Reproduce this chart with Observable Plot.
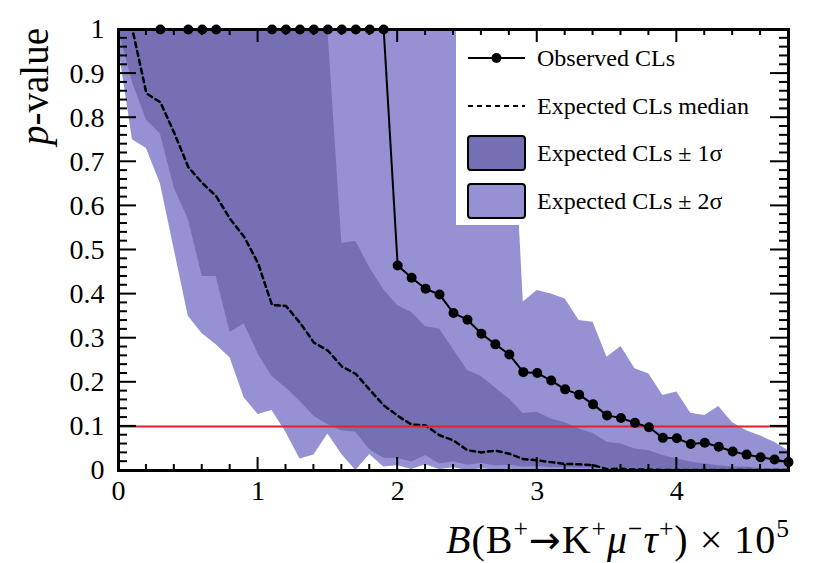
<!DOCTYPE html>
<html><head><meta charset="utf-8">
<script src="https://cdn.jsdelivr.net/npm/d3@7"></script>
<script src="https://cdn.jsdelivr.net/npm/@observablehq/plot@0.6"></script>
<style>body{margin:0;background:#fff}</style>
</head><body><div id="chart"></div>
<script>
// ---- data ----
const xGrid = [0,0.1,0.2,0.3,0.4,0.5,0.6,0.7,0.8,0.9,1.0,1.1,1.2,1.3,1.4,1.5,1.6,1.7,1.8,1.9,2.0,2.1,2.2,2.3,2.4,2.5,2.6,2.7,2.8,2.9,3.0,3.1,3.2,3.3,3.4,3.5,3.6,3.7,3.8,3.9,4.0,4.1,4.2,4.3,4.4,4.5,4.6,4.7,4.8];
const upper2 = [1,1,1,1,1,1,1,1,1,1,1,1,1,1,1,1,1,1,1,1,1,1,1,1,1,1,1,1,1,
  0.382,0.408,0.400,0.389,0.340,0.336,0.257,0.281,0.231,0.219,0.170,0.178,0.130,0.125,0.145,0.108,0.090,0.078,0.064,0.045];
const lower2 = [0.96,0.75,0.73,0.65,0.50,0.35,0.31,0.285,0.255,0.165,0.127,0.136,0.086,0.026,0.035,0.083,0.036,0.0,0.036,0.008,0.011,0.002,0.013,0.002,0.006,0.0,0.004,0.001,0.003,0.0,0.001,
  0,0,0,0,0,0,0,0,0,0,0,0,0,0,0,0,0,0];
const upper1 = [1,1,1,1,1,1,1,1,1,1,1,1,1,1,1,1,
  0.515,0.52,0.46,0.41,0.374,0.358,0.326,0.321,0.274,0.227,0.213,0.187,0.162,0.129,0.132,0.117,0.108,0.094,0.084,0.064,0.060,0.049,0.045,0.034,0.026,0.019,0.015,0.011,0.008,0.008,0.004,0.004,0.003];
const lower1 = [1.0,0.88,0.795,0.763,0.64,0.57,0.44,0.44,0.313,0.333,0.265,0.213,0.187,0.157,0.123,0.104,0.09,0.087,0.047,0.028,0.027,0.019,0.034,0.015,0.02,0.012,0.016,0.01,0.012,0.008,0.009,0.006,0.007,0.005,0.005,0.004,0.004,0.003,0.003,0.002,0.002,0.002,0.002,0.001,0.001,0.001,0.001,0.001,0.001];
const median = [1,1,0.855,0.835,0.765,0.688,0.652,0.622,0.57,0.53,0.47,0.375,0.373,0.335,0.29,0.272,0.236,0.219,0.183,0.148,0.124,0.104,0.102,0.08,0.068,0.046,0.041,0.045,0.038,0.026,0.023,0.019,0.015,0.014,0.012,0.003,0.004,0.002,0.002,0.001,0.001,0.001,0.001,0.001,0.001,0.001,0.001,0.001,0.001];

const obsX = [0.3,0.5,0.6,0.7,1.1,1.2,1.3,1.4,1.5,1.6,1.7,1.8,1.9,2.0,2.1,2.2,2.3,2.4,2.5,2.6,2.7,2.8,2.9,3.0,3.1,3.2,3.3,3.4,3.5,3.6,3.7,3.8,3.9,4.0,4.1,4.2,4.3,4.4,4.5,4.6,4.7,4.8];
const obsY = [1,1,1,1,1,1,1,1,1,1,1,1,1,
  0.465,0.437,0.412,0.399,0.357,0.342,0.310,0.286,0.263,0.223,0.221,0.204,0.184,0.172,0.150,0.125,0.119,0.108,0.098,0.074,0.073,0.060,0.063,0.054,0.043,0.036,0.030,0.025,0.019];

const threshold = [0.1];
const xMajor = [0,1,2,3,4];
const yMajor = [0,0.1,0.2,0.3,0.4,0.5,0.6,0.7,0.8,0.9,1];
const xMinor = [0.2,0.4,0.6,0.8,1.2,1.4,1.6,1.8,2.2,2.4,2.6,2.8,3.2,3.4,3.6,3.8,4.2,4.4,4.6,4.8];
const yMinor = d3.range(0, 1.001, 0.02).filter(v => Math.abs(v*10 - Math.round(v*10)) > 1e-6);

const legendLabels = ["Observed CLs", "Expected CLs median", "Expected CLs \u00b1 1\u03c3", "Expected CLs \u00b1 2\u03c3"];

// ---- build tables ----
const bands = xGrid.map((x, i) => ({x, lo2: lower2[i], hi2: upper2[i], lo1: lower1[i], hi1: upper1[i], med: median[i]}));
const obs = obsX.map((x, i) => ({x, y: obsY[i]}));

const W = 830, H = 563, mL = 118, mR = 42, mT = 29, mB = 93;
const dark = "#7570b3", light = "#9691d3", red = "#e8202a";
const FONT = "'Liberation Serif', 'Times New Roman', serif";

function legendMark(index, scales, values, dims) {
  const g = d3.create("svg:g").attr("font-family", FONT).attr("text-anchor", "start");
  const left = 456, top = dims.marginTop, bottom = 225, right = dims.width - dims.marginRight;
  g.append("rect").attr("x", left).attr("y", top).attr("width", right - left).attr("height", bottom - top).attr("fill", "white");
  const sx0 = 468, sx1 = 525, tx = 537;
  const rows = [58, 106, 153, 201];
  g.append("line").attr("x1", sx0).attr("x2", sx1).attr("y1", rows[0]).attr("y2", rows[0]).attr("stroke", "black").attr("stroke-width", 2);
  g.append("circle").attr("cx", (sx0 + sx1) / 2).attr("cy", rows[0]).attr("r", 5).attr("fill", "black");
  g.append("line").attr("x1", sx0).attr("x2", sx1).attr("y1", rows[1]).attr("y2", rows[1]).attr("stroke", "black").attr("stroke-width", 2.2).attr("stroke-dasharray", "5,4");
  [[rows[2], dark], [rows[3], light]].forEach(([cy, col]) => {
    g.append("rect").attr("x", sx0).attr("y", cy - 17).attr("width", sx1 - sx0).attr("height", 34)
      .attr("rx", 3).attr("fill", col).attr("stroke", "black").attr("stroke-width", 2);
  });
  legendLabels.forEach((t, i) => {
    g.append("text").attr("x", tx).attr("y", rows[i]).attr("dy", "0.35em").attr("font-size", 24)
      .attr("text-anchor", "start").attr("fill", "black").text(t);
  });
  return g.node();
}

function titleMark(index, scales, values, dims) {
  const x1 = dims.width - dims.marginRight;
  const tt = d3.create("svg:g").attr("font-family", FONT).attr("fill", "black");
  const ytl = tt.append("text").attr("transform", "translate(48,28) rotate(-90)").attr("text-anchor", "end").attr("font-size", 39);
  ytl.append("tspan").attr("font-style", "italic").text("p");
  ytl.append("tspan").text("-value");
  const xtl = tt.append("text").attr("x", x1 + 2).attr("y", 553)
    .attr("text-anchor", "end").attr("font-size", 40).attr("letter-spacing", 1);
  const sup = (s) => { xtl.append("tspan").attr("font-size", "0.64em").attr("dy", -16).text(s); };
  const base = (s, it) => { const t = xtl.append("tspan").attr("dy", 16).text(s); if (it) t.attr("font-style", "italic"); return t; };
  xtl.append("tspan").attr("font-style", "italic").text("B");
  xtl.append("tspan").text("(B");
  sup("+");
  base("\u2192").attr("font-family", "'DejaVu Sans', sans-serif").attr("font-size", "0.95em");
  xtl.append("tspan").text("K");
  sup("+");
  base("\u03bc", true);
  sup("\u2212");
  base("\u03c4", true);
  sup("+");
  base(") \u00d7 10");
  sup("5");
  return tt.node();
}

const plot = Plot.plot({
  width: W, height: H,
  marginLeft: mL, marginRight: mR, marginTop: mT, marginBottom: mB,
  x: {domain: [0, 4.8], label: null},
  y: {domain: [0, 1], label: null},
  style: {fontFamily: FONT, background: "white", color: "black", overflow: "visible"},
  marks: [
    Plot.areaY(bands, {x: "x", y1: "lo2", y2: "hi2", fill: light}),
    Plot.areaY(bands, {x: "x", y1: "lo1", y2: "hi1", fill: dark}),
    Plot.lineY(bands, {x: "x", y: "med", stroke: "black", strokeWidth: 2.5, strokeDasharray: "5,4"}),
    Plot.ruleY(threshold, {y: d => d, stroke: red, strokeWidth: 2}),
    Plot.line(obs, {x: "x", y: "y", stroke: "black", strokeWidth: 2}),
    Plot.dot(obs, {x: "x", y: "y", r: 5, fill: "black", stroke: null}),
    legendMark,
    Plot.frame({stroke: "black", strokeWidth: 3}),
    Plot.axisX({ticks: xMajor, tickSize: 0, tickPadding: 10, fontSize: 28, label: null, tickFormat: d => String(d)}),
    Plot.axisY({ticks: yMajor, tickSize: 0, tickPadding: 14, fontSize: 28, label: null, tickFormat: d => String(d)}),
    titleMark
  ]
});
document.getElementById("chart").appendChild(plot);

// inward ticks on all four sides, placed with the plot's own x and y scales
(function addTicks() {
  const xs = plot.scale("x"), ys = plot.scale("y");
  const px = v => { const p = xs.apply(v); return Number.isFinite(p) ? p : mL + (W - mL - mR) * (v - xs.domain[0]) / (xs.domain[1] - xs.domain[0]); };
  const py = v => { const p = ys.apply(v); return Number.isFinite(p) ? p : (H - mB) - (H - mT - mB) * (v - ys.domain[0]) / (ys.domain[1] - ys.domain[0]); };
  const x0 = mL, x1 = W - mR, y0 = mT, y1 = H - mB;
  const NS = "http://www.w3.org/2000/svg";
  const g = document.createElementNS(NS, "g");
  const seg = (a, b, c, d) => {
    const l = document.createElementNS(NS, "line");
    l.setAttribute("x1", a); l.setAttribute("y1", b); l.setAttribute("x2", c); l.setAttribute("y2", d);
    l.setAttribute("stroke", "#000"); l.setAttribute("stroke-width", "2");
    g.appendChild(l);
  };
  xMajor.forEach(v => { const p = px(v); seg(p, y1, p, y1 - 13); seg(p, y0, p, y0 + 13); });
  xMinor.forEach(v => { const p = px(v); seg(p, y1, p, y1 - 6); seg(p, y0, p, y0 + 6); });
  yMajor.forEach(v => { const p = py(v); seg(x0, p, x0 + 18, p); seg(x1, p, x1 - 18, p); });
  yMinor.forEach(v => { const p = py(v); seg(x0, p, x0 + 9, p); seg(x1, p, x1 - 9, p); });
  plot.appendChild(g);
})();
</script></body></html>
